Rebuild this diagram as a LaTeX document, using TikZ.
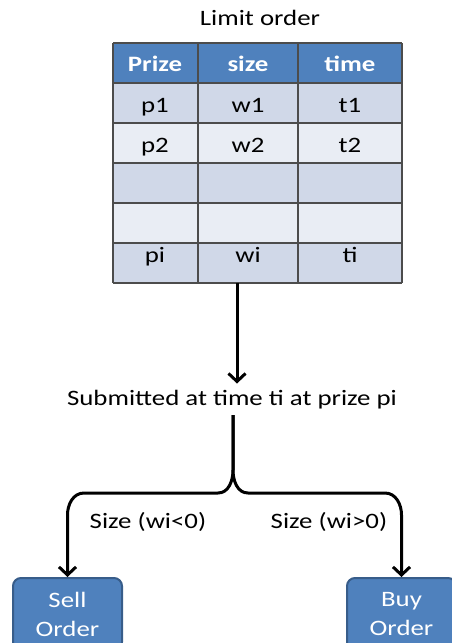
\documentclass[tikz,border=0pt]{standalone}
\usepackage{fontspec}
\setmainfont{Carlito}[FakeStretch=1.22]
\usetikzlibrary{arrows.meta}
\definecolor{hdblue}{HTML}{4F81BD}
\definecolor{rowdark}{HTML}{D0D8E8}
\definecolor{rowlight}{HTML}{E9EDF4}
\definecolor{boxline}{HTML}{385D8A}

\begin{document}
\begin{tikzpicture}[x=1pt,y=1pt,
    txt/.style={font=\fontsize{22}{29}\selectfont, inner sep=0pt, anchor=base},
    hd/.style={txt, text=white, font=\fontsize{22}{29}\selectfont\bfseries},
    arr/.style={line width=3pt, -{Straight Barb[length=8pt,width=17pt]}},
    order/.style={txt, anchor=center, fill=hdblue, draw=boxline, line width=2pt,
        rounded corners=8pt, text=white, align=center, minimum width=109pt, minimum height=72pt}]
    \useasboundingbox (0,0) rectangle (451,-643);
    \node[txt] (title) at (260,-25) {Limit order};
    \fill[hdblue] (113,-43) rectangle (402,-83);
    \foreach \y/\c in {83/rowdark,123/rowlight,163/rowdark,203/rowlight,243/rowdark}
        \fill[\c] (113,-\y) rectangle (402,-\y-40);
    \foreach \x in {113,198,298,402}
        \draw[line width=1.3pt, black!70] (\x,-43) -- (\x,-283);
    \foreach \y in {43,83,123,163,203,243,283}
        \draw[line width=1.3pt, black!70] (113,-\y) -- (402,-\y);
    \foreach \x/\a/\b/\c/\d [count=\i] in {155/Prize/p1/p2/pi, 248/size/w1/w2/wi, 350/time/t1/t2/ti} {
        \node[hd] (h\i) at (\x,-71) {\a};
        \node[txt] (a\i) at (\x,-112) {\b};
        \node[txt] (b\i) at (\x,-152) {\c};
        \node[txt] (c\i) at (\x,-262) {\d};
    }
    \coordinate (tb) at (237,-283);
    \node[txt] (sub) at (232,-405) {Submitted at time ti at prize pi};
    \draw[arr, shorten >=6pt] (tb) -- (tb |- sub.north);
    \coordinate (f) at (233,-415);
    \node[order] (sell) at (67.5,-614) {Sell\\Order};
    \node[order] (buy) at (401.5,-614) {Buy\\Order};
    \draw[arr] (f) -- (233,-470) to[out=-90,in=0] (218,-493) -- (84,-493)
        to[out=180,in=90] (67.5,-515) -- (sell.north);
    \draw[arr] (f) -- (233,-470) to[out=-90,in=180] (248,-493) -- (385,-493)
        to[out=0,in=90] (401.5,-515) -- (buy.north);
    \node[txt] (sl) at (148,-528) {Size (wi<0)};
    \node[txt] (sr) at (329,-528) {Size (wi>0)};
\end{tikzpicture}
\end{document}
